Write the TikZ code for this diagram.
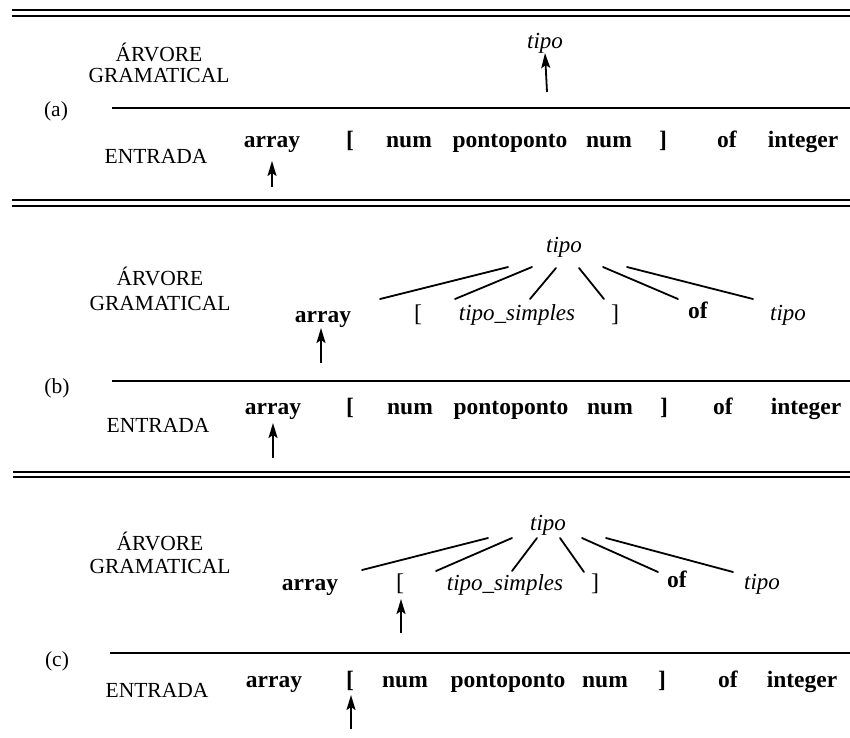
\documentclass[tikz,border=0pt]{standalone}
\usepackage{fontspec}
\setmainfont{Liberation Serif}
\usetikzlibrary{arrows.meta}
\begin{document}
\begin{tikzpicture}[x=1pt,y=-1pt,
  lbl/.style={font=\fontsize{21.5}{23}\selectfont, anchor=base, inner sep=0pt},
  tok/.style={font=\fontsize{23.5}{25}\selectfont\bfseries, anchor=base, inner sep=0pt},
  brk/.style={font=\fontsize{24}{26}\selectfont, anchor=base, inner sep=0pt},
  nt/.style={font=\fontsize{23}{25}\selectfont\itshape, anchor=base, inner sep=0pt},
  rulethin/.style={line width=1.3pt},
  rulethick/.style={line width=1.9pt},
  sep/.style={line width=1.6pt},
  ptr/.style={line width=1.8pt, -{Stealth[length=15pt,width=9pt,inset=3pt]}},
  branch/.style={line width=1.8pt, line cap=round}]
\useasboundingbox (0,0) rectangle (850,737);
\fill[white] (0,0) rectangle (850,737);

% ---------- double rules ----------
\coordinate (r1a) at (12,10);  \coordinate (r1b) at (850,10);
\coordinate (r2a) at (12,16);  \coordinate (r2b) at (850,16);
\coordinate (r3a) at (12,200); \coordinate (r3b) at (850,200);
\coordinate (r4a) at (12,206); \coordinate (r4b) at (850,206);
\coordinate (r5a) at (13,472); \coordinate (r5b) at (850,472);
\coordinate (r6a) at (13,477); \coordinate (r6b) at (850,477);
\draw[rulethin] (r1a) -- (r1b);
\draw[rulethick] (r2a) -- (r2b);
\draw[rulethin] (r3a) -- (r3b);
\draw[rulethick] (r4a) -- (r4b);
\draw[rulethin] (r5a) -- (r5b);
\draw[rulethick] (r6a) -- (r6b);

% ================= panel (a) =================
\node[lbl] (arvA) at (159,61) {ÁRVORE};
\node[lbl] (gramA) at (159,82) {GRAMATICAL};
\node[nt] (tipoA) at (545,48) {tipo};
\coordinate (tAt) at (547,92);
\draw[ptr] (tAt) -- (tipoA.south);
\node[lbl] (labA) at (56,116) {(a)};
\coordinate (sAa) at (112,108); \coordinate (sAb) at (850,108);
\draw[sep] (sAa) -- (sAb);
\node[lbl] (entA) at (156,163) {ENTRADA};
\node[tok] (a1) at (272,147) {array};
\node[tok] (a2) at (350,147) {[};
\node[tok] (a3) at (409,147) {num};
\node[tok] (a4) at (510,147) {pontoponto};
\node[tok] (a5) at (609,147) {num};
\node[tok] (a6) at (663,147) {]};
\node[tok] (a7) at (727,147) {of};
\node[tok] (a8) at (803,147) {integer};
\coordinate (iAt) at (272,187); \coordinate (iAh) at (272,161);
\draw[ptr] (iAt) -- (iAh);

% ================= panel (b) =================
\node[lbl] (arvB) at (160,285) {ÁRVORE};
\node[lbl] (gramB) at (160,310) {GRAMATICAL};
\node[nt] (tipoB) at (564,252) {tipo};
\node[tok] (b1) at (323,322) {array};
\node[brk] (b2) at (418,321) {[};
\node[nt] (b3) at (517,320) {tipo\_simples};
\node[brk] (b4) at (615,321) {]};
\node[tok] (b5) at (698,318) {of};
\node[nt] (b6) at (788,320) {tipo};
\coordinate (bt1) at (508,267); \coordinate (bb1) at (380,299);
\coordinate (bt2) at (532,267); \coordinate (bb2) at (455,299);
\coordinate (bt3) at (556,268); \coordinate (bb3) at (530,299);
\coordinate (bt4) at (579,268); \coordinate (bb4) at (604,299);
\coordinate (bt5) at (603,267); \coordinate (bb5) at (678,299);
\coordinate (bt6) at (627,267); \coordinate (bb6) at (753,299);
\foreach \i in {1,...,6} {\draw[branch] (bt\i) -- (bb\i);}
\coordinate (tBt) at (321,363); \coordinate (tBh) at (321,328);
\draw[ptr] (tBt) -- (tBh);
\node[lbl] (labB) at (57,393) {(b)};
\coordinate (sBa) at (112,381); \coordinate (sBb) at (850,381);
\draw[sep] (sBa) -- (sBb);
\node[lbl] (entB) at (158,432) {ENTRADA};
\node[tok] (c1) at (273,414) {array};
\node[tok] (c2) at (350,414) {[};
\node[tok] (c3) at (410,414) {num};
\node[tok] (c4) at (511,414) {pontoponto};
\node[tok] (c5) at (610,414) {num};
\node[tok] (c6) at (664,414) {]};
\node[tok] (c7) at (723,414) {of};
\node[tok] (c8) at (806,414) {integer};
\coordinate (iBt) at (273,458); \coordinate (iBh) at (273,423);
\draw[ptr] (iBt) -- (iBh);

% ================= panel (c) =================
\node[lbl] (arvC) at (160,550) {ÁRVORE};
\node[lbl] (gramC) at (160,573) {GRAMATICAL};
\node[nt] (tipoC) at (548,530) {tipo};
\node[tok] (d1) at (310,590) {array};
\node[brk] (d2) at (400,590) {[};
\node[nt] (d3) at (505,590) {tipo\_simples};
\node[brk] (d4) at (595,590) {]};
\node[tok] (d5) at (677,587) {of};
\node[nt] (d6) at (762,589) {tipo};
\coordinate (ct1) at (488,538); \coordinate (cb1) at (362,570);
\coordinate (ct2) at (512,538); \coordinate (cb2) at (436,571);
\coordinate (ct3) at (537,538); \coordinate (cb3) at (512,571);
\coordinate (ct4) at (560,538); \coordinate (cb4) at (584,572);
\coordinate (ct5) at (582,538); \coordinate (cb5) at (658,572);
\coordinate (ct6) at (606,538); \coordinate (cb6) at (733,572);
\foreach \i in {1,...,6} {\draw[branch] (ct\i) -- (cb\i);}
\coordinate (tCt) at (401,633); \coordinate (tCh) at (401,599);
\draw[ptr] (tCt) -- (tCh);
\node[lbl] (labC) at (57,666) {(c)};
\coordinate (sCa) at (110,653); \coordinate (sCb) at (850,653);
\draw[sep] (sCa) -- (sCb);
\node[lbl] (entC) at (157,697) {ENTRADA};
\node[tok] (e1) at (274,687) {array};
\node[tok] (e2) at (350,687) {[};
\node[tok] (e3) at (405,687) {num};
\node[tok] (e4) at (508,687) {pontoponto};
\node[tok] (e5) at (605,687) {num};
\node[tok] (e6) at (662,687) {]};
\node[tok] (e7) at (728,687) {of};
\node[tok] (e8) at (802,687) {integer};
\coordinate (iCt) at (351,729); \coordinate (iCh) at (351,695);
\draw[ptr] (iCt) -- (iCh);
\end{tikzpicture}
\end{document}
